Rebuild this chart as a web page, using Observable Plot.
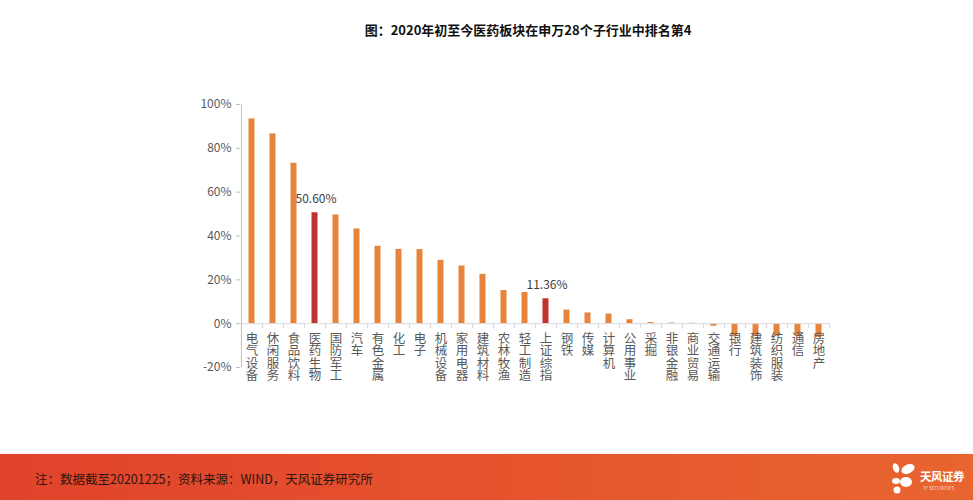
<!DOCTYPE html>
<html>
<head>
<meta charset="utf-8">
<script src="https://cdn.jsdelivr.net/npm/d3@7"></script>
<script src="https://cdn.jsdelivr.net/npm/@observablehq/plot@0.6"></script>
<style>
  html, body { margin: 0; padding: 0; background: #fff; }
  body { width: 973px; height: 500px; overflow: hidden; position: relative; font-family: "Noto Sans CJK SC", "Noto Sans", sans-serif; }
  #title { position: absolute; left: 0; width: 1056px; top: 20px; text-align: center; font-size: 13px; font-weight: bold; color: #111; }
  #chart { position: absolute; left: 0; top: 0; }
  #footer { position: absolute; left: 0; top: 454px; width: 973px; height: 46px;
    background: linear-gradient(90deg, #e0432b 0%, #e5512d 45%, #e8652f 100%);
    box-shadow: 0 -1px 2px rgba(0,0,0,0.08); }
  #note { position: absolute; left: 35px; top: 15px; font-size: 12.5px; color: #2b1510; white-space: nowrap; }
  #logo { position: absolute; left: 890px; top: 6px; width: 80px; height: 36px; }
  #logo .cn { position: absolute; left: 30px; top: 8px; font-size: 11.5px; font-weight: bold; color: #fff; white-space: nowrap; letter-spacing: -0.5px; }
  #logo .en { position: absolute; left: 33px; top: 25px; font-size: 4.5px; color: #fde; white-space: nowrap; }
</style>
</head>
<body>
<div id="title">图：2020年初至今医药板块在申万28个子行业中排名第4</div>
<div id="chart"></div>
<div id="footer">
  <div id="note">注：数据截至20201225；资料来源：WIND，天风证券研究所</div>
  <div id="logo">
    <svg width="28" height="36" viewBox="0 0 28 36">
      <ellipse cx="6" cy="8" rx="3" ry="5" fill="#fff" transform="rotate(-20 6 8)"/>
      <ellipse cx="18" cy="9" rx="7" ry="4.5" fill="#fff" transform="rotate(-25 18 9)"/>
      <ellipse cx="6" cy="21" rx="4" ry="3" fill="#fff"/>
      <ellipse cx="16" cy="22" rx="6" ry="5" fill="#fff"/>
      <ellipse cx="7" cy="30" rx="3.5" ry="3.5" fill="#fff"/>
    </svg>
    <div class="cn">天风证券</div>
    <div class="en">TF SECURITIES</div>
  </div>
</div>
<script>
const categories = ["电气设备","休闲服务","食品饮料","医药生物","国防军工","汽车","有色金属","化工","电子","机械设备","家用电器","建筑材料","农林牧渔","轻工制造","上证综指","钢铁","传媒","计算机","公用事业","采掘","非银金融","商业贸易","交通运输","银行","建筑装饰","纺织服装","通信","房地产"];
const values = [93.4, 86.6, 73.2, 50.6, 49.6, 43.2, 35.3, 33.9, 33.8, 28.9, 26.3, 22.5, 15.1, 14.2, 11.36, 6.2, 4.9, 4.4, 1.8, 0.5, 0.3, 0.2, -1.2, -5.6, -5.8, -5.7, -5.9, -6.3];
const highlighted = ["医药生物", "上证综指"];
const labelText = {"医药生物": "50.60%", "上证综指": "11.36%"};
const yTicks = [-20, 0, 20, 40, 60, 80, 100];

const data = categories.map((c, i) => ({cat: c, value: values[i], hl: highlighted.includes(c)}));
const labelled = data.filter(d => labelText[d.cat]);

const W = 973, H = 500, mL = 240, mR = 143;
const halfStep = (W - mL - mR) / categories.length / 2;

const chart = Plot.plot({
  width: W,
  height: H,
  marginTop: 104,
  marginBottom: 133,
  marginLeft: mL,
  marginRight: mR,
  style: {fontFamily: '"Noto Sans CJK SC", "Noto Sans", sans-serif', background: "transparent"},
  x: {domain: categories, padding: 0, axis: null},
  y: {domain: [-20, 100], axis: null},
  marks: [
    Plot.barY(data, {x: "cat", y: "value", fill: d => d.hl ? "#c0322d" : "#e5843a", insetLeft: 7.5, insetRight: 7.5}),
    Plot.ruleY([0], {stroke: "#d9d9d9", strokeWidth: 1}),
    Plot.ruleX(categories, {x: d => d, dx: halfStep, y1: 0, y2: -2.2, stroke: "#d9d9d9"}),
    Plot.ruleX([categories[0]], {x: d => d, dx: -halfStep, y1: -20, y2: 100, stroke: "#bfbfbf"}),
    Plot.axisY({ticks: yTicks, tickFormat: d => d + "%", tickSize: 4, tickPadding: 5, stroke: "#bfbfbf", color: "#595959", fontSize: 12, label: null}),
    Plot.text(data, {x: "cat", y: 0, text: d => [...d.cat].join("\n"), lineAnchor: "top", dy: 10, fontSize: 12.5, lineHeight: 1.0, fill: "#595959"}),
    Plot.text(labelled, {x: "cat", y: "value", text: d => labelText[d.cat], dy: -14, dx: 1, fontSize: 12, fill: "#404040"})
  ]
});
document.getElementById("chart").appendChild(chart);
</script>
</body>
</html>
